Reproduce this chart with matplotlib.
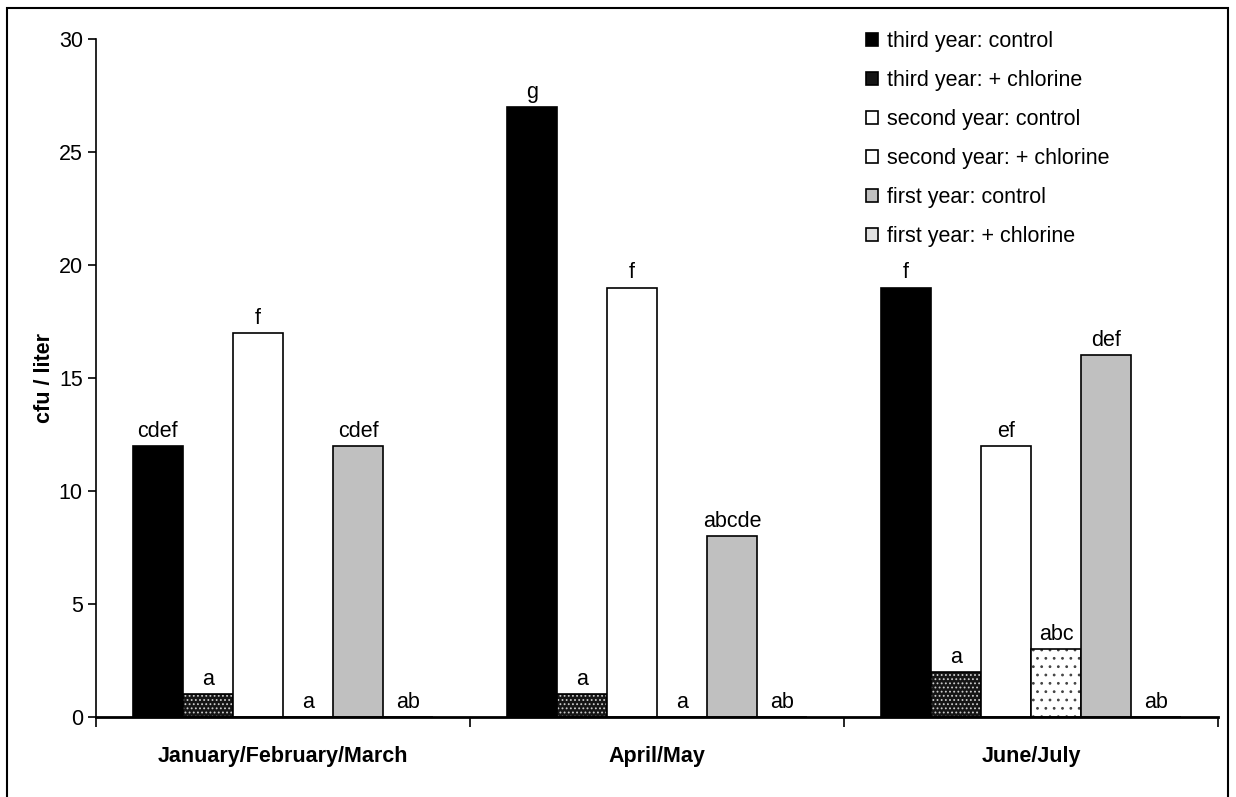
import matplotlib.pyplot as plt
import numpy as np
from matplotlib.patches import Rectangle

plt.rcParams['font.family'] = ['Liberation Sans', 'DejaVu Sans']
plt.rcParams['hatch.linewidth'] = 0.8

periods = ["January/February/March", "April/May", "June/July"]
series_names = ["third year: control", "third year: + chlorine",
                "second year: control", "second year: + chlorine",
                "first year: control", "first year: + chlorine"]
third_control = [12, 27, 19]
third_chlorine = [1, 1, 2]
second_control = [17, 19, 12]
second_chlorine = [0, 0, 3]
first_control = [12, 8, 16]
first_chlorine = [0, 0, 0]
letters_third_control = ["cdef", "g", "f"]
letters_third_chlorine = ["a", "a", "a"]
letters_second_control = ["f", "f", "ef"]
letters_second_chlorine = ["a", "a", "abc"]
letters_first_control = ["cdef", "abcde", "def"]
letters_first_chlorine = ["ab", "ab", "ab"]

values = [third_control, third_chlorine, second_control,
          second_chlorine, first_control, first_chlorine]
letters = [letters_third_control, letters_third_chlorine, letters_second_control,
           letters_second_chlorine, letters_first_control, letters_first_chlorine]

# (face, hatch, hatch colour)
styles = [("black", None, None),
          ("#151515", "....", "#cccccc"),
          ("white", None, None),
          ("white", "..", "#444444"),
          ("#c0c0c0", None, None),
          ("#e0e0e0", None, None)]

FS = 15.5

fig = plt.figure(figsize=(12.36, 7.97), dpi=100)
ax = fig.add_axes([96 / 1236, 80 / 797, 1122 / 1236, 678 / 797])

x = np.arange(len(periods))
width = 0.134
handles = []
for k, (vals, labs, (face, hatch, hcol)) in enumerate(zip(values, letters, styles)):
    pos = x + (k - 2.5) * width
    if hatch:
        ax.bar(pos, vals, width, color=face, hatch=hatch, edgecolor=hcol, linewidth=0)
        ax.bar(pos, vals, width, fill=False, edgecolor="black", linewidth=1.2)
    else:
        ax.bar(pos, vals, width, color=face, edgecolor="black", linewidth=1.2)
    for px, v, lab in zip(pos, vals, labs):
        ax.annotate(lab, (px, v), xytext=(0, 3), textcoords="offset points",
                    ha="center", va="bottom", fontsize=FS)
    handles.append(Rectangle((0, 0), 1, 1, facecolor=face, edgecolor="black",
                             linewidth=1.2))

ax.set_xlim(-0.5, 2.5)
ax.set_ylim(0, 30)
ax.set_yticks([0, 5, 10, 15, 20, 25, 30])
ax.tick_params(axis="y", labelsize=FS, length=6, width=1.2, direction="out")
ax.set_xticks([-0.5, 0.5, 1.5, 2.5])
ax.set_xticklabels([])
ax.tick_params(axis="x", which="major", length=7, width=1.2, direction="out")
ax.set_xticks(x, minor=True)
ax.set_xticklabels(periods, minor=True, fontsize=FS, fontweight="bold")
ax.tick_params(axis="x", which="minor", length=0, pad=21)
ax.set_ylabel("cfu / liter", fontsize=FS, fontweight="bold", labelpad=3)
ax.spines["top"].set_visible(False)
ax.spines["right"].set_visible(False)
ax.spines["left"].set_linewidth(1.2)
ax.spines["bottom"].set_linewidth(2)

ax.legend(handles, series_names, loc="upper left",
          bbox_to_anchor=(866 / 1236, 1 - 31 / 797),
          bbox_transform=fig.transFigure, frameon=False, fontsize=FS,
          handlelength=0.56, handleheight=0.56, handletextpad=0.42,
          labelspacing=0.84, borderpad=0, borderaxespad=0)

fig.add_artist(Rectangle((7 / 1236, -3 / 797), 1221 / 1236, 792 / 797,
                         transform=fig.transFigure, fill=False,
                         edgecolor="black", linewidth=1.5))

fig.savefig("out.png", dpi=100)
